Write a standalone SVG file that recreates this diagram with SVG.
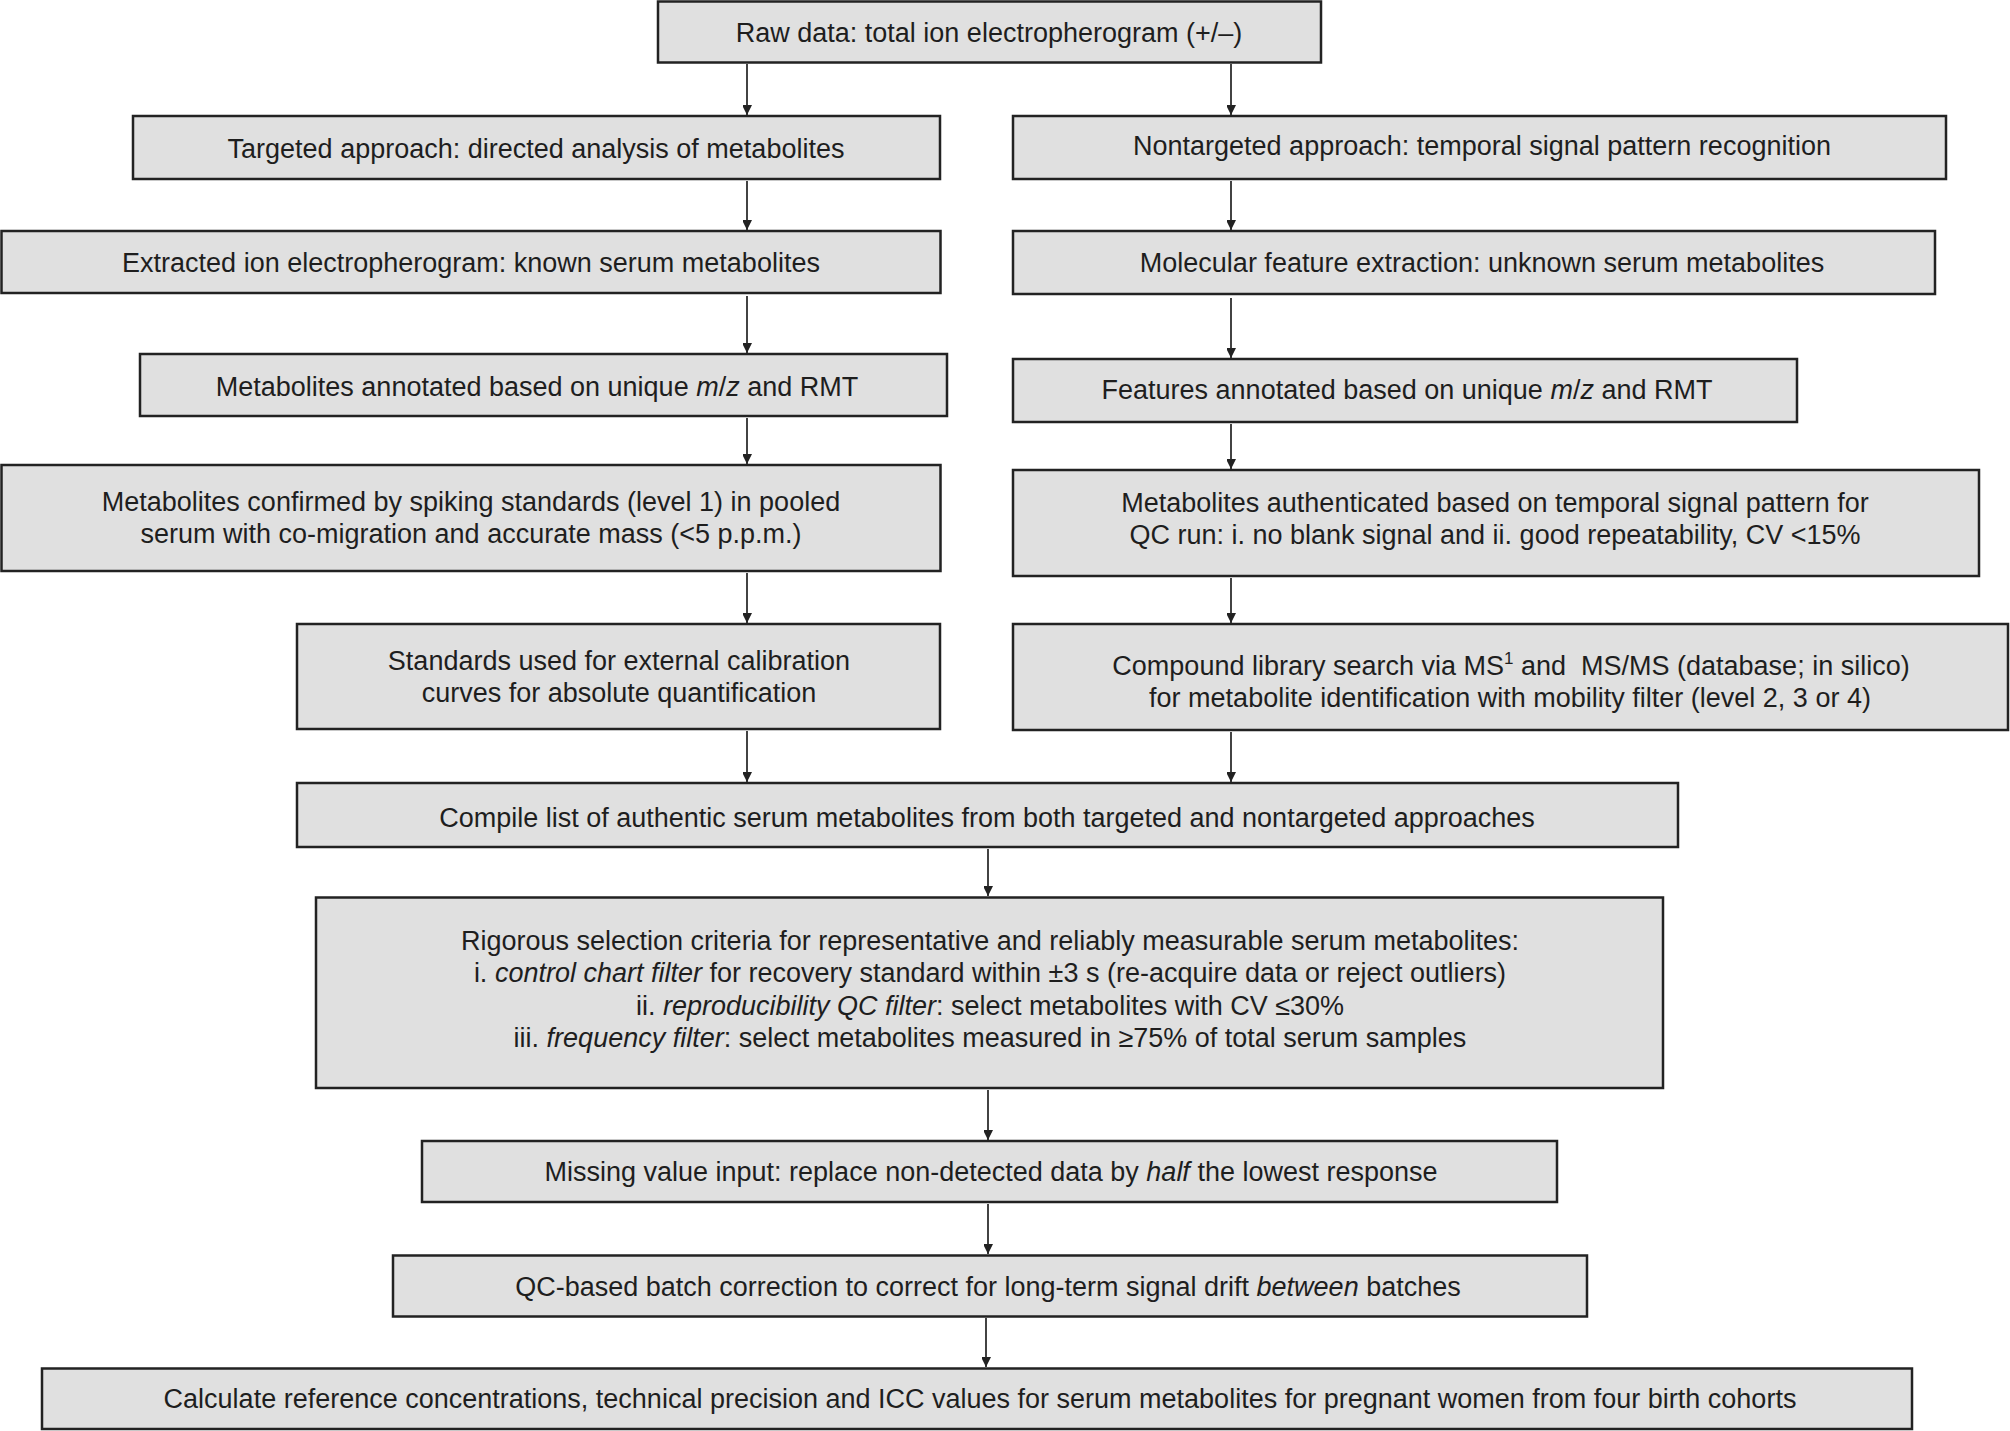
<svg xmlns="http://www.w3.org/2000/svg" width="2010" height="1431" viewBox="0 0 2010 1431">
<style>
.box{fill:#e0e0e0;stroke:#222;stroke-width:2.5}
.t{font-family:"Liberation Sans",Arial,sans-serif;font-size:27px;fill:#1e1e1e;text-anchor:middle}
.i{font-style:italic}
.c{stroke:#222;stroke-width:1.7;fill:none}
</style>
<defs>
<marker id="ah" markerUnits="userSpaceOnUse" markerWidth="20" markerHeight="20" viewBox="-10 -16 20 20" refX="0" refY="0" orient="auto-start-reverse">
<path d="M0,0 L-7,-14 L0,-9.5 L7,-14 Z" fill="#222" transform="rotate(-90)"/>
</marker>
</defs>
<rect width="2010" height="1431" fill="#fff"/>
<g id="connectors">
<line class="c" x1="747" y1="64" x2="747" y2="115" marker-end="url(#ah)"/>
<line class="c" x1="747" y1="181" x2="747" y2="230" marker-end="url(#ah)"/>
<line class="c" x1="747" y1="296" x2="747" y2="353" marker-end="url(#ah)"/>
<line class="c" x1="747" y1="418" x2="747" y2="464" marker-end="url(#ah)"/>
<line class="c" x1="747" y1="573" x2="747" y2="623" marker-end="url(#ah)"/>
<line class="c" x1="747" y1="731" x2="747" y2="782" marker-end="url(#ah)"/>
<line class="c" x1="1231" y1="64" x2="1231" y2="115" marker-end="url(#ah)"/>
<line class="c" x1="1231" y1="181" x2="1231" y2="230" marker-end="url(#ah)"/>
<line class="c" x1="1231" y1="298" x2="1231" y2="358" marker-end="url(#ah)"/>
<line class="c" x1="1231" y1="424" x2="1231" y2="469" marker-end="url(#ah)"/>
<line class="c" x1="1231" y1="578" x2="1231" y2="623" marker-end="url(#ah)"/>
<line class="c" x1="1231" y1="732" x2="1231" y2="782" marker-end="url(#ah)"/>
<line class="c" x1="988" y1="849" x2="988" y2="896" marker-end="url(#ah)"/>
<line class="c" x1="988" y1="1090" x2="988" y2="1140" marker-end="url(#ah)"/>
<line class="c" x1="988" y1="1204" x2="988" y2="1254" marker-end="url(#ah)"/>
<line class="c" x1="986" y1="1318" x2="986" y2="1367" marker-end="url(#ah)"/>
</g>
<g id="n-raw"><rect class="box" x="658" y="1.5" width="663" height="61"/><text class="t" x="989" y="42">Raw data: total ion electropherogram (+/–)</text></g>
<g id="n-targeted"><rect class="box" x="133" y="116" width="807" height="63"/><text class="t" x="536" y="158">Targeted approach: directed analysis of metabolites</text></g>
<g id="n-nontargeted"><rect class="box" x="1013" y="116" width="933" height="63"/><text class="t" x="1482" y="155">Nontargeted approach: temporal signal pattern recognition</text></g>
<g id="n-extracted"><rect class="box" x="1.5" y="231" width="939" height="62"/><text class="t" x="471" y="272">Extracted ion electropherogram: known serum metabolites</text></g>
<g id="n-molecular"><rect class="box" x="1013" y="231" width="922" height="63"/><text class="t" x="1482" y="272">Molecular feature extraction: unknown serum metabolites</text></g>
<g id="n-metannot"><rect class="box" x="140" y="354" width="807" height="62"/><text class="t" x="537" y="396">Metabolites annotated based on unique <tspan class="i">m</tspan>/<tspan class="i">z</tspan> and RMT</text></g>
<g id="n-features"><rect class="box" x="1013" y="359" width="784" height="63"/><text class="t" x="1407" y="399">Features annotated based on unique <tspan class="i">m</tspan>/<tspan class="i">z</tspan> and RMT</text></g>
<g id="n-confirmed"><rect class="box" x="1.5" y="465" width="939" height="106"/><text class="t" x="471" y="511">Metabolites confirmed by spiking standards (level 1) in pooled</text><text class="t" x="471" y="543">serum with co-migration and accurate mass (&lt;5 p.p.m.)</text></g>
<g id="n-authenticated"><rect class="box" x="1013" y="470" width="966" height="106"/><text class="t" x="1495" y="512">Metabolites authenticated based on temporal signal pattern for</text><text class="t" x="1495" y="544">QC run: i. no blank signal and ii. good repeatability, CV &lt;15%</text></g>
<g id="n-standards"><rect class="box" x="297" y="624" width="643" height="105"/><text class="t" x="619" y="670">Standards used for external calibration</text><text class="t" x="619" y="702">curves for absolute quantification</text></g>
<g id="n-compound"><rect class="box" x="1013" y="624" width="995" height="106"/><text class="t" x="1511" y="675">Compound library search via MS<tspan font-size="17" dy="-11">1</tspan><tspan dy="11"> and&#160; MS/MS (database; in silico)</tspan></text><text class="t" x="1510" y="707">for metabolite identification with mobility filter (level 2, 3 or 4)</text></g>
<g id="n-compile"><rect class="box" x="297" y="783" width="1381" height="64"/><text class="t" x="987" y="827">Compile list of authentic serum metabolites from both targeted and nontargeted approaches</text></g>
<g id="n-rigorous"><rect class="box" x="316" y="897.5" width="1347" height="190.5"/>
<text class="t" x="990" y="950">Rigorous selection criteria for representative and reliably measurable serum metabolites:</text>
<text class="t" x="990" y="982">i. <tspan class="i">control chart filter</tspan> for recovery standard within ±3 s (re-acquire data or reject outliers)</text>
<text class="t" x="990" y="1014.5">ii. <tspan class="i">reproducibility QC filter</tspan>: select metabolites with CV ≤30%</text>
<text class="t" x="990" y="1047">iii. <tspan class="i">frequency filter</tspan>: select metabolites measured in ≥75% of total serum samples</text></g>
<g id="n-missing"><rect class="box" x="422" y="1141" width="1135" height="61"/><text class="t" x="991" y="1181">Missing value input: replace non-detected data by <tspan class="i">half</tspan> the lowest response</text></g>
<g id="n-qc"><rect class="box" x="393" y="1255.5" width="1194" height="61"/><text class="t" x="988" y="1296">QC-based batch correction to correct for long-term signal drift <tspan class="i">between</tspan> batches</text></g>
<g id="n-calc"><rect class="box" x="42" y="1368.5" width="1870" height="60.5"/><text class="t" x="980" y="1408">Calculate reference concentrations, technical precision and ICC values for serum metabolites for pregnant women from four birth cohorts</text></g>
</svg>
